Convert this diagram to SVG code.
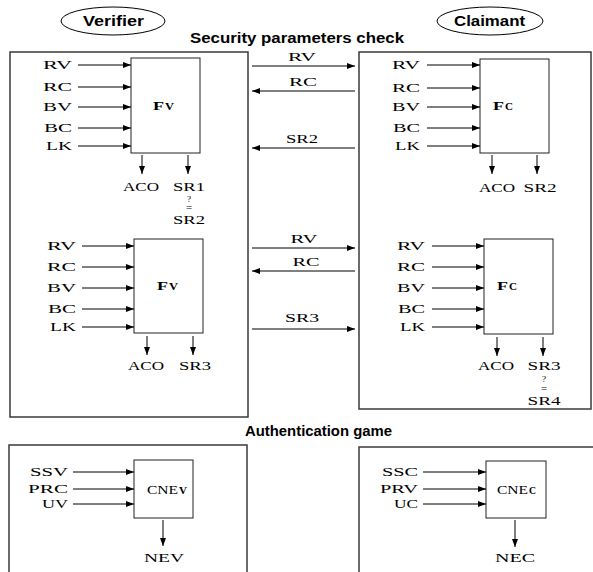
<svg xmlns="http://www.w3.org/2000/svg" width="593" height="572" viewBox="0 0 593 572">
<style>
.bg{fill:#fff}
.outer{fill:none;stroke:#3a3a3a;stroke-width:1.5}
.box{fill:#fff;stroke:#222;stroke-width:1}
.arr{stroke:#000;stroke-width:1;fill:none;marker-end:url(#ah)}
.t{font-family:"Liberation Serif","Times New Roman",serif;font-size:13px;fill:#000}
.q{font-family:"Liberation Serif","Times New Roman",serif;font-size:9px;fill:#000}
.tb{font-family:"Liberation Serif","Times New Roman",serif;font-weight:bold;fill:#000}
.h{font-family:"Liberation Sans",Arial,sans-serif;font-weight:bold;font-size:14px;fill:#000}
.e{fill:#fff;stroke:#000;stroke-width:1}
</style>
<defs>
<marker id="ah" markerWidth="8" markerHeight="6" refX="8" refY="3" orient="auto" markerUnits="userSpaceOnUse">
<path d="M0,0 L8,3 L0,6 z" fill="#000"/>
</marker>
</defs>
<rect class="bg" x="0" y="0" width="593" height="572"/>

<g id="verifier-label">
<ellipse class="e" cx="113" cy="21" rx="52" ry="14"/>
<text class="h" x="83" y="26" textLength="61" lengthAdjust="spacingAndGlyphs">Verifier</text>
</g>
<g id="claimant-label">
<ellipse class="e" cx="490" cy="21" rx="53" ry="14"/>
<text class="h" x="454" y="26" textLength="71" lengthAdjust="spacingAndGlyphs">Claimant</text>
</g>
<text class="h" x="190" y="43" textLength="214" lengthAdjust="spacingAndGlyphs">Security parameters check</text>
<text class="h" x="245" y="436" textLength="147" lengthAdjust="spacingAndGlyphs">Authentication game</text>

<g id="verifier-box">
<rect class="outer" x="10" y="52" width="238" height="365"/>
</g>
<g id="claimant-box">
<rect class="outer" x="359" y="52" width="232" height="357"/>
</g>
<g id="verifier-auth-box">
<rect class="outer" x="9" y="445" width="238" height="140"/>
</g>
<g id="claimant-auth-box">
<rect class="outer" x="359" y="447" width="240" height="140"/>
</g>

<!-- Fv top -->
<g id="fv1">
<rect class="box" x="131" y="58" width="69" height="95"/>
<text class="tb" x="153" y="110" font-size="13" textLength="11" lengthAdjust="spacingAndGlyphs">F</text>
<text class="tb" x="165" y="110" font-size="10" textLength="9" lengthAdjust="spacingAndGlyphs">V</text>
<g class="t" text-anchor="end">
<text x="72" y="69" textLength="29" lengthAdjust="spacingAndGlyphs">RV</text>
<text x="72" y="91" textLength="29" lengthAdjust="spacingAndGlyphs">RC</text>
<text x="72" y="111" textLength="29" lengthAdjust="spacingAndGlyphs">BV</text>
<text x="72" y="132" textLength="28" lengthAdjust="spacingAndGlyphs">BC</text>
<text x="72" y="150" textLength="26" lengthAdjust="spacingAndGlyphs">LK</text>
</g>
<g class="t" text-anchor="middle">
<text x="141" y="191" textLength="36" lengthAdjust="spacingAndGlyphs">ACO</text>
<text x="189" y="191" textLength="32" lengthAdjust="spacingAndGlyphs">SR1</text>
<text class="q" x="189" y="202">?</text>
<text x="189" y="211" font-size="11">=</text>
<text x="189" y="224" textLength="32" lengthAdjust="spacingAndGlyphs">SR2</text>
</g>
</g>

<!-- Fv bottom -->
<g id="fv2">
<rect class="box" x="134" y="239" width="69" height="94"/>
<text class="tb" x="157" y="290" font-size="13" textLength="11" lengthAdjust="spacingAndGlyphs">F</text>
<text class="tb" x="169" y="290" font-size="10" textLength="9" lengthAdjust="spacingAndGlyphs">V</text>
<g class="t" text-anchor="end">
<text x="76" y="250" textLength="29" lengthAdjust="spacingAndGlyphs">RV</text>
<text x="76" y="271" textLength="29" lengthAdjust="spacingAndGlyphs">RC</text>
<text x="76" y="292" textLength="29" lengthAdjust="spacingAndGlyphs">BV</text>
<text x="76" y="313" textLength="28" lengthAdjust="spacingAndGlyphs">BC</text>
<text x="76" y="331" textLength="26" lengthAdjust="spacingAndGlyphs">LK</text>
</g>
<g class="t" text-anchor="middle">
<text x="146" y="370" textLength="36" lengthAdjust="spacingAndGlyphs">ACO</text>
<text x="195" y="370" textLength="32" lengthAdjust="spacingAndGlyphs">SR3</text>
</g>
</g>

<!-- Fc top -->
<g id="fc1">
<rect class="box" x="480" y="59" width="69" height="94"/>
<text class="tb" x="493" y="110" font-size="13" textLength="11" lengthAdjust="spacingAndGlyphs">F</text>
<text class="tb" x="505" y="110" font-size="10" textLength="8" lengthAdjust="spacingAndGlyphs">C</text>
<g class="t" text-anchor="end">
<text x="420" y="69" textLength="28" lengthAdjust="spacingAndGlyphs">RV</text>
<text x="420" y="92" textLength="28" lengthAdjust="spacingAndGlyphs">RC</text>
<text x="420" y="111" textLength="28" lengthAdjust="spacingAndGlyphs">BV</text>
<text x="420" y="132" textLength="27" lengthAdjust="spacingAndGlyphs">BC</text>
<text x="420" y="150" textLength="25" lengthAdjust="spacingAndGlyphs">LK</text>
</g>
<g class="t" text-anchor="middle">
<text x="497" y="192" textLength="36" lengthAdjust="spacingAndGlyphs">ACO</text>
<text x="540" y="192" textLength="33" lengthAdjust="spacingAndGlyphs">SR2</text>
</g>
</g>

<!-- Fc bottom -->
<g id="fc2">
<rect class="box" x="484" y="239" width="69" height="95"/>
<text class="tb" x="497" y="290" font-size="13" textLength="11" lengthAdjust="spacingAndGlyphs">F</text>
<text class="tb" x="509" y="290" font-size="10" textLength="8" lengthAdjust="spacingAndGlyphs">C</text>
<g class="t" text-anchor="end">
<text x="425" y="250" textLength="28" lengthAdjust="spacingAndGlyphs">RV</text>
<text x="425" y="271" textLength="28" lengthAdjust="spacingAndGlyphs">RC</text>
<text x="425" y="292" textLength="28" lengthAdjust="spacingAndGlyphs">BV</text>
<text x="425" y="313" textLength="27" lengthAdjust="spacingAndGlyphs">BC</text>
<text x="425" y="331" textLength="25" lengthAdjust="spacingAndGlyphs">LK</text>
</g>
<g class="t" text-anchor="middle">
<text x="496" y="370" textLength="36" lengthAdjust="spacingAndGlyphs">ACO</text>
<text x="544" y="370" textLength="33" lengthAdjust="spacingAndGlyphs">SR3</text>
<text class="q" x="544" y="382">?</text>
<text x="544" y="392" font-size="11">=</text>
<text x="544" y="405" textLength="33" lengthAdjust="spacingAndGlyphs">SR4</text>
</g>
</g>

<!-- CNEv -->
<g id="cnev">
<rect class="box" x="134" y="460" width="59" height="58"/>
<text class="t" x="147" y="494" textLength="31" lengthAdjust="spacingAndGlyphs">CNE</text>
<text class="tb" x="179" y="494" font-size="10" textLength="8" lengthAdjust="spacingAndGlyphs">V</text>
<g class="t" text-anchor="end">
<text x="68" y="476" textLength="38" lengthAdjust="spacingAndGlyphs">SSV</text>
<text x="68" y="493" textLength="40" lengthAdjust="spacingAndGlyphs">PRC</text>
<text x="68" y="508" textLength="26" lengthAdjust="spacingAndGlyphs">UV</text>
</g>
<text class="t" x="164" y="562" text-anchor="middle" textLength="40" lengthAdjust="spacingAndGlyphs">NEV</text>
</g>

<!-- CNEc -->
<g id="cnec">
<rect class="box" x="486" y="461" width="60" height="57"/>
<text class="t" x="497" y="494" textLength="31" lengthAdjust="spacingAndGlyphs">CNE</text>
<text class="tb" x="529" y="494" font-size="10" textLength="7" lengthAdjust="spacingAndGlyphs">C</text>
<g class="t" text-anchor="end">
<text x="418" y="476" textLength="36" lengthAdjust="spacingAndGlyphs">SSC</text>
<text x="418" y="493" textLength="38" lengthAdjust="spacingAndGlyphs">PRV</text>
<text x="418" y="508" textLength="24" lengthAdjust="spacingAndGlyphs">UC</text>
</g>
<text class="t" x="515" y="562" text-anchor="middle" textLength="40" lengthAdjust="spacingAndGlyphs">NEC</text>
</g>

<!-- message labels -->
<g id="messages" class="t" text-anchor="middle">
<text x="302" y="61" textLength="28" lengthAdjust="spacingAndGlyphs">RV</text>
<text x="303" y="86" textLength="28" lengthAdjust="spacingAndGlyphs">RC</text>
<text x="302" y="143" textLength="32" lengthAdjust="spacingAndGlyphs">SR2</text>
<text x="304" y="243" textLength="27" lengthAdjust="spacingAndGlyphs">RV</text>
<text x="306" y="266" textLength="27" lengthAdjust="spacingAndGlyphs">RC</text>
<text x="302" y="322" textLength="34" lengthAdjust="spacingAndGlyphs">SR3</text>
</g>

<g id="connectors">
<line class="arr" x1="78" y1="65" x2="131" y2="65"/>
<line class="arr" x1="78" y1="87" x2="131" y2="87"/>
<line class="arr" x1="78" y1="107" x2="131" y2="107"/>
<line class="arr" x1="78" y1="128" x2="131" y2="128"/>
<line class="arr" x1="78" y1="146" x2="131" y2="146"/>
<line class="arr" x1="142" y1="155" x2="142" y2="174"/>
<line class="arr" x1="188" y1="155" x2="188" y2="174"/>
<line class="arr" x1="82" y1="246" x2="134" y2="246"/>
<line class="arr" x1="82" y1="267" x2="134" y2="267"/>
<line class="arr" x1="82" y1="288" x2="134" y2="288"/>
<line class="arr" x1="82" y1="309" x2="134" y2="309"/>
<line class="arr" x1="82" y1="327" x2="134" y2="327"/>
<line class="arr" x1="147" y1="336" x2="147" y2="355"/>
<line class="arr" x1="193" y1="336" x2="193" y2="355"/>
<line class="arr" x1="427" y1="65" x2="480" y2="65"/>
<line class="arr" x1="427" y1="88" x2="480" y2="88"/>
<line class="arr" x1="427" y1="107" x2="480" y2="107"/>
<line class="arr" x1="427" y1="128" x2="480" y2="128"/>
<line class="arr" x1="427" y1="146" x2="480" y2="146"/>
<line class="arr" x1="492" y1="155" x2="492" y2="174"/>
<line class="arr" x1="537" y1="155" x2="537" y2="174"/>
<line class="arr" x1="432" y1="246" x2="484" y2="246"/>
<line class="arr" x1="432" y1="267" x2="484" y2="267"/>
<line class="arr" x1="432" y1="288" x2="484" y2="288"/>
<line class="arr" x1="432" y1="309" x2="484" y2="309"/>
<line class="arr" x1="432" y1="327" x2="484" y2="327"/>
<line class="arr" x1="497" y1="337" x2="497" y2="356"/>
<line class="arr" x1="543" y1="337" x2="543" y2="356"/>
<line class="arr" x1="252" y1="66" x2="355" y2="66"/>
<line class="arr" x1="355" y1="91" x2="252" y2="91"/>
<line class="arr" x1="355" y1="148" x2="252" y2="148"/>
<line class="arr" x1="252" y1="248" x2="355" y2="248"/>
<line class="arr" x1="355" y1="271" x2="252" y2="271"/>
<line class="arr" x1="252" y1="329" x2="355" y2="329"/>
<line class="arr" x1="73" y1="472" x2="134" y2="472"/>
<line class="arr" x1="73" y1="489" x2="134" y2="489"/>
<line class="arr" x1="73" y1="504" x2="134" y2="504"/>
<line class="arr" x1="163" y1="520" x2="163" y2="546"/>
<line class="arr" x1="423" y1="472" x2="486" y2="472"/>
<line class="arr" x1="423" y1="489" x2="486" y2="489"/>
<line class="arr" x1="423" y1="504" x2="486" y2="504"/>
<line class="arr" x1="515" y1="520" x2="515" y2="547"/>
</g>
</svg>
